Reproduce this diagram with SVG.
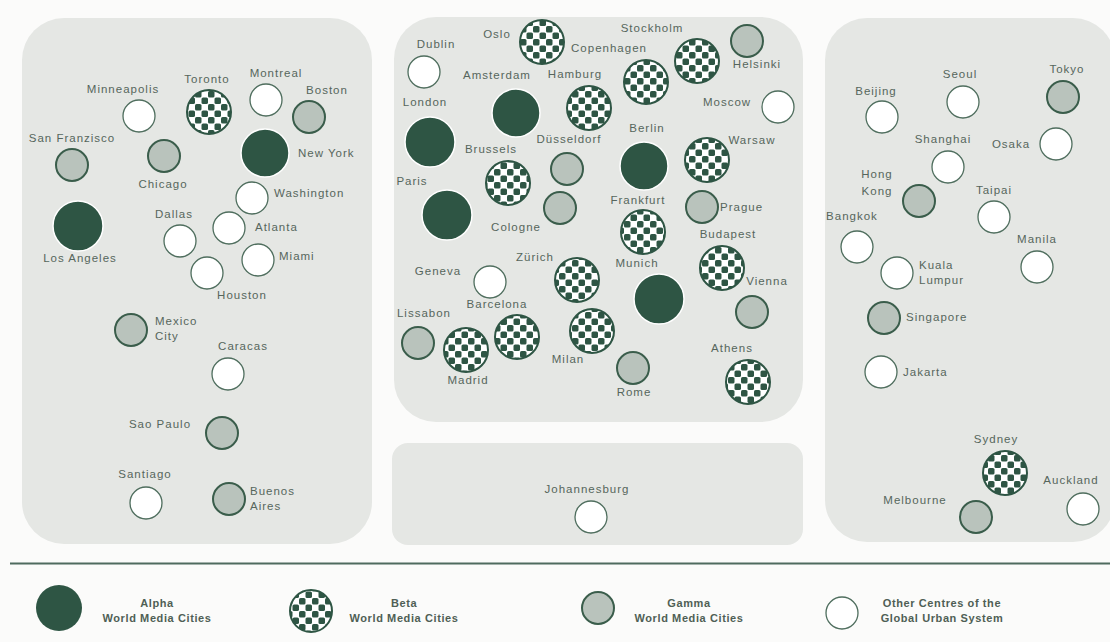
<svg xmlns="http://www.w3.org/2000/svg" width="1110" height="642" viewBox="0 0 1110 642">
<defs>
<pattern id="chk" width="13" height="13" patternUnits="userSpaceOnUse">
<rect width="13" height="13" fill="#ffffff"/>
<rect x="0" y="0" width="6.5" height="6.5" rx="1.6" fill="#2e5544"/>
<rect x="6.5" y="6.5" width="6.5" height="6.5" rx="1.6" fill="#2e5544"/>
</pattern>
<style>
.panel{fill:#e5e7e4}
.a{fill:#2e5544;stroke:#ffffff;stroke-width:1.5}
.b{fill:url(#chk);stroke:#2e5544;stroke-width:2}
.g{fill:#b9c3bc;stroke:#3a5d4b;stroke-width:2}
.o{fill:#ffffff;stroke:#4f6e5e;stroke-width:1.3}
text{font-family:"Liberation Sans",Arial,sans-serif;font-size:11.5px;letter-spacing:1px;fill:#56665c}
.m{text-anchor:middle}
.lg{font-weight:bold;font-size:11px;letter-spacing:0.6px;fill:#4f5f55;text-anchor:middle}
</style>
</defs>
<rect width="1110" height="642" fill="#fbfbfa"/>
<g id="panels">
<rect class="panel" x="22" y="18" width="350" height="526" rx="42"/>
<rect class="panel" x="394" y="17" width="409" height="405" rx="42"/>
<rect class="panel" x="392" y="443" width="411" height="102" rx="16"/>
<rect class="panel" x="825" y="18" width="290" height="524" rx="42"/>
</g>
<g id="connectors">
<line x1="10" y1="563.5" x2="1110" y2="563.5" stroke="#4f6b5e" stroke-width="2"/>
</g>
<!-- Americas -->
<g id="minneapolis"><circle class="o" cx="139" cy="116" r="16"/><text class="m" x="123" y="93">Minneapolis</text></g>
<g id="toronto"><circle class="b" cx="209" cy="112" r="22"/><text class="m" x="207" y="83">Toronto</text></g>
<g id="montreal"><circle class="o" cx="266" cy="100" r="16"/><text class="m" x="276" y="77">Montreal</text></g>
<g id="boston"><circle class="g" cx="309" cy="117" r="16"/><text class="m" x="327" y="94">Boston</text></g>
<g id="sanfranzisco"><circle class="g" cx="72" cy="165" r="16"/><text class="m" x="72" y="142">San Franzisco</text></g>
<g id="chicago"><circle class="g" cx="164" cy="156" r="16"/><text class="m" x="163" y="188">Chicago</text></g>
<g id="newyork"><circle class="a" cx="265" cy="153" r="24"/><text x="298" y="157">New York</text></g>
<g id="washington"><circle class="o" cx="252" cy="198" r="16"/><text x="274" y="197">Washington</text></g>
<g id="losangeles"><circle class="a" cx="78" cy="226" r="25"/><text class="m" x="80" y="262">Los Angeles</text></g>
<g id="dallas"><circle class="o" cx="180" cy="241" r="16"/><text class="m" x="174" y="218">Dallas</text></g>
<g id="atlanta"><circle class="o" cx="229" cy="228" r="16"/><text x="255" y="231">Atlanta</text></g>
<g id="miami"><circle class="o" cx="258" cy="260" r="16"/><text x="279" y="260">Miami</text></g>
<g id="houston"><circle class="o" cx="207" cy="273" r="16"/><text class="m" x="242" y="299">Houston</text></g>
<g id="mexicocity"><circle class="g" cx="131" cy="330" r="16"/><text x="155" y="325">Mexico</text><text x="155" y="340">City</text></g>
<g id="caracas"><circle class="o" cx="228" cy="374" r="16"/><text class="m" x="243" y="350">Caracas</text></g>
<g id="saopaulo"><circle class="g" cx="222" cy="433" r="16"/><text class="m" x="160" y="428">Sao Paulo</text></g>
<g id="santiago"><circle class="o" cx="146" cy="503" r="16"/><text class="m" x="145" y="478">Santiago</text></g>
<g id="buenosaires"><circle class="g" cx="229" cy="499" r="16"/><text x="250" y="495">Buenos</text><text x="250" y="510">Aires</text></g>
<!-- Europe -->
<g id="oslo"><circle class="b" cx="542" cy="42" r="22"/><text class="m" x="497" y="38">Oslo</text></g>
<g id="dublin"><circle class="o" cx="424" cy="72" r="16"/><text class="m" x="436" y="48">Dublin</text></g>
<g id="stockholm"><circle class="b" cx="697" cy="61" r="22"/><text class="m" x="652" y="32">Stockholm</text></g>
<g id="copenhagen"><circle class="b" cx="646" cy="82" r="22"/><text class="m" x="609" y="52">Copenhagen</text></g>
<g id="helsinki"><circle class="g" cx="747" cy="41" r="16"/><text class="m" x="757" y="68">Helsinki</text></g>
<g id="hamburg"><circle class="b" cx="589" cy="108" r="22"/><text class="m" x="575" y="78">Hamburg</text></g>
<g id="amsterdam"><circle class="a" cx="516" cy="113" r="24"/><text class="m" x="497" y="79">Amsterdam</text></g>
<g id="london"><circle class="a" cx="430" cy="142" r="25"/><text class="m" x="425" y="106">London</text></g>
<g id="moscow"><circle class="o" cx="778" cy="107" r="16"/><text class="m" x="727" y="106">Moscow</text></g>
<g id="berlin"><circle class="a" cx="644" cy="166" r="24"/><text class="m" x="647" y="132">Berlin</text></g>
<g id="dusseldorf"><circle class="g" cx="567" cy="169" r="16"/><text class="m" x="569" y="143">Düsseldorf</text></g>
<g id="brussels"><circle class="b" cx="508" cy="183" r="22"/><text class="m" x="491" y="153">Brussels</text></g>
<g id="warsaw"><circle class="b" cx="707" cy="160" r="22"/><text class="m" x="752" y="144">Warsaw</text></g>
<g id="paris"><circle class="a" cx="447" cy="215" r="25"/><text class="m" x="412" y="185">Paris</text></g>
<g id="cologne"><circle class="g" cx="560" cy="208" r="16"/><text class="m" x="516" y="231">Cologne</text></g>
<g id="frankfurt"><circle class="b" cx="643" cy="232" r="22"/><text class="m" x="638" y="204">Frankfurt</text></g>
<g id="prague"><circle class="g" cx="702" cy="207" r="16"/><text x="720" y="211">Prague</text></g>
<g id="budapest"><circle class="b" cx="722" cy="268" r="22"/><text class="m" x="728" y="238">Budapest</text></g>
<g id="zurich"><circle class="b" cx="577" cy="280" r="22"/><text class="m" x="535" y="261">Zürich</text></g>
<g id="munich"><circle class="a" cx="659" cy="299" r="25"/><text class="m" x="637" y="267">Munich</text></g>
<g id="geneva"><circle class="o" cx="490" cy="282" r="16"/><text class="m" x="438" y="275">Geneva</text></g>
<g id="vienna"><circle class="g" cx="752" cy="312" r="16"/><text class="m" x="767" y="285">Vienna</text></g>
<g id="barcelona"><circle class="b" cx="517" cy="337" r="22"/><text class="m" x="497" y="308">Barcelona</text></g>
<g id="lissabon"><circle class="g" cx="418" cy="343" r="16"/><text class="m" x="424" y="317">Lissabon</text></g>
<g id="madrid"><circle class="b" cx="466" cy="350" r="22"/><text class="m" x="468" y="384">Madrid</text></g>
<g id="milan"><circle class="b" cx="592" cy="331" r="22"/><text class="m" x="568" y="363">Milan</text></g>
<g id="rome"><circle class="g" cx="633" cy="368" r="16"/><text class="m" x="634" y="396">Rome</text></g>
<g id="athens"><circle class="b" cx="748" cy="382" r="22"/><text class="m" x="732" y="352">Athens</text></g>
<!-- Africa -->
<g id="johannesburg"><circle class="o" cx="591" cy="517" r="16"/><text class="m" x="587" y="493">Johannesburg</text></g>
<!-- Asia Pacific -->
<g id="beijing"><circle class="o" cx="882" cy="117" r="16"/><text class="m" x="876" y="95">Beijing</text></g>
<g id="seoul"><circle class="o" cx="963" cy="102" r="16"/><text class="m" x="960" y="78">Seoul</text></g>
<g id="tokyo"><circle class="g" cx="1063" cy="97" r="16"/><text class="m" x="1067" y="73">Tokyo</text></g>
<g id="shanghai"><circle class="o" cx="948" cy="167" r="16"/><text class="m" x="943" y="143">Shanghai</text></g>
<g id="osaka"><circle class="o" cx="1056" cy="144" r="16"/><text class="m" x="1011" y="148">Osaka</text></g>
<g id="hongkong"><circle class="g" cx="919" cy="201" r="16"/><text class="m" x="877" y="178">Hong</text><text class="m" x="877" y="195">Kong</text></g>
<g id="taipai"><circle class="o" cx="994" cy="217" r="16"/><text class="m" x="994" y="194">Taipai</text></g>
<g id="bangkok"><circle class="o" cx="857" cy="247" r="16"/><text class="m" x="852" y="220">Bangkok</text></g>
<g id="manila"><circle class="o" cx="1037" cy="267" r="16"/><text class="m" x="1037" y="243">Manila</text></g>
<g id="kualalumpur"><circle class="o" cx="897" cy="273" r="16"/><text x="919" y="269">Kuala</text><text x="919" y="284">Lumpur</text></g>
<g id="singapore"><circle class="g" cx="884" cy="318" r="16"/><text x="906" y="321">Singapore</text></g>
<g id="jakarta"><circle class="o" cx="881" cy="372" r="16"/><text x="903" y="376">Jakarta</text></g>
<g id="sydney"><circle class="b" cx="1005" cy="473" r="22"/><text class="m" x="996" y="443">Sydney</text></g>
<g id="auckland"><circle class="o" cx="1083" cy="509" r="16"/><text class="m" x="1071" y="484">Auckland</text></g>
<g id="melbourne"><circle class="g" cx="976" cy="517" r="16"/><text class="m" x="915" y="504">Melbourne</text></g>
<!-- Legend -->
<g id="legend-alpha"><circle cx="59" cy="608" r="23" fill="#2e5544"/><text class="lg" x="157" y="607">Alpha</text><text class="lg" x="157" y="622">World Media Cities</text></g>
<g id="legend-beta"><circle class="b" cx="311" cy="611" r="21"/><text class="lg" x="404" y="607">Beta</text><text class="lg" x="404" y="622">World Media Cities</text></g>
<g id="legend-gamma"><circle class="g" cx="598" cy="608" r="16"/><text class="lg" x="689" y="607">Gamma</text><text class="lg" x="689" y="622">World Media Cities</text></g>
<g id="legend-other"><circle class="o" cx="842" cy="613" r="16"/><text class="lg" x="942" y="607">Other Centres of the</text><text class="lg" x="942" y="622">Global Urban System</text></g>
</svg>
